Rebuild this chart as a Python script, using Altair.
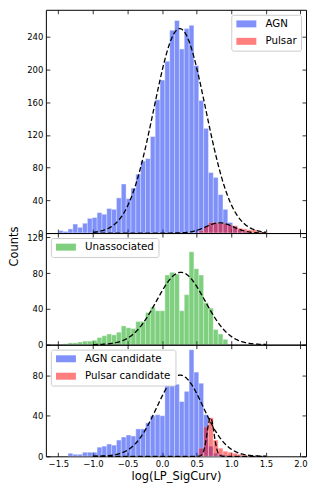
import altair as alt
import numpy as np
import pandas as pd

# ---------------- data ----------------
BIN_START = -1.5
BIN_WIDTH = 0.07

agn_counts = [3, 2, 5, 11, 7, 12, 18, 19, 25, 23, 30, 29, 43, 60, 42, 55, 72, 88, 91, 118,
              163, 187, 210, 248, 260, 225, 250, 254, 205, 162, 128, 74, 68, 47, 29, 13, 8, 4, 2]
pulsar_counts = [0] * 29 + [3, 8, 13, 13, 12, 12, 10, 9, 6, 5, 4, 4, 2, 1]

unassoc_counts = [0, 1, 2, 2, 3, 4, 4, 5, 8, 10, 12, 11, 14, 21, 19, 18, 26, 26, 36, 42,
                  38, 38, 78, 81, 79, 38, 56, 104, 85, 78, 47, 41, 17, 12, 6]

agn_cand_counts = [0, 0, 3, 2, 2, 4, 4, 4, 9, 10, 12, 11, 16, 19, 21, 20, 27, 27, 33, 40,
                   41, 40, 70, 78, 71, 54, 64, 105, 83, 72, 41, 10, 3, 2, 1]
pulsar_cand_counts = [0] * 29 + [8, 29, 38, 16, 8, 5, 4, 3, 2, 1, 1]

# Gaussian fits drawn as dashed lines: (name, mean, sigma, amplitude)
fits_top = [("AGN", 0.255, 0.375, 250), ("Pulsar", 0.83, 0.20, 12.5)]
fits_mid = [("Unassociated", 0.27, 0.35, 81)]
fits_bot = [("AGN candidate", 0.26, 0.335, 80), ("Pulsar candidate", 0.70, 0.05, 38)]
FIT_RANGE = (-1.0, 1.5)

x_ticks = [-1.5, -1.0, -0.5, 0.0, 0.5, 1.0, 1.5, 2.0]
X_DOMAIN = [-1.68, 2.08]

BLUE = "#0125f3"
RED = "#ff0000"
GREEN = "#00a000"


def bars(series_list):
    rows = []
    for name, counts in series_list:
        for k, c in enumerate(counts):
            if c > 0:
                rows.append({"series": name,
                             "x0": BIN_START + k * BIN_WIDTH,
                             "x1": BIN_START + (k + 1) * BIN_WIDTH,
                             "count": c})
    return pd.DataFrame(rows)


def curves(fits):
    xs = np.linspace(FIT_RANGE[0], FIT_RANGE[1], 400)
    rows = []
    for name, mu, sd, amp in fits:
        ys = amp * np.exp(-0.5 * ((xs - mu) / sd) ** 2)
        rows += [{"curve": name, "x": float(a), "y": float(b)} for a, b in zip(xs, ys)]
    return pd.DataFrame(rows)


TICK = 4


def inward(orient, values, labels=False, title=None, **kw):
    return alt.Axis(orient=orient, values=values, labels=labels, title=title,
                    domain=False, ticks=True, tickSize=TICK, offset=-TICK,
                    grid=False, **kw)


def panel(series_list, colors, fits, ymax, yticks, height, legend_orient,
          bottom_labels=False, ytitle_kw=None):
    bdf = bars(series_list)
    cdf = curves(fits)
    xs = alt.Scale(domain=X_DOMAIN, nice=False, zero=False)
    ys = alt.Scale(domain=[0, ymax], nice=False, zero=True)
    names = [n for n, _ in series_list]

    left_kw = dict(labelPadding=3, labelFontSize=8.5)
    if ytitle_kw:
        left_kw.update(ytitle_kw)
        ytitle = "Counts"
    else:
        ytitle = None
    bottom_kw = {}
    if bottom_labels:
        bottom_kw = dict(format=".1f", labelPadding=3, labelFontSize=8.5,
                         titleFontSize=11.5, titlePadding=3, titleFontWeight="normal")
    b = alt.Chart(bdf).mark_bar(opacity=0.5, stroke="white", strokeWidth=0.4).encode(
        x=alt.X("x0:Q", scale=xs,
                axis=inward("bottom", x_ticks, labels=bottom_labels,
                            title="log(LP_SigCurv)" if bottom_labels else None,
                            **bottom_kw)),
        x2="x1:Q",
        y=alt.Y("count:Q", scale=ys,
                axis=inward("left", yticks, labels=True, title=ytitle, **left_kw)),
        y2=alt.datum(0),
        color=alt.Color("series:N",
                        scale=alt.Scale(domain=names, range=colors),
                        legend=alt.Legend(title=None, orient=legend_orient, offset=5,
                                          padding=4, strokeColor="#cccccc",
                                          fillColor="white", cornerRadius=2,
                                          symbolType="M-2,-0.7L2,-0.7L2,0.7L-2,0.7Z",
                                          symbolSize=100, symbolOffset=6,
                                          symbolStrokeWidth=0,
                                          symbolOpacity=0.5, labelFontSize=10.3,
                                          labelFont="DejaVu Sans", rowPadding=6.5,
                                          labelOffset=14)),
    )
    ln = alt.Chart(cdf).mark_line(color="black", strokeDash=[5, 2.5], strokeWidth=1.3).encode(
        x=alt.X("x:Q", scale=xs, axis=inward("top", x_ticks)),
        y=alt.Y("y:Q", scale=ys, axis=inward("right", yticks)),
        detail="curve:N",
    )
    return alt.layer(b, ln).resolve_axis(x="independent", y="independent").properties(
        width=261, height=height)


p1 = panel([("AGN", agn_counts), ("Pulsar", pulsar_counts)], [BLUE, RED], fits_top,
           273, [0, 40, 80, 120, 160, 200, 240], 224, "top-right")
p2 = panel([("Unassociated", unassoc_counts)], [GREEN], fits_mid,
           125, [0, 40, 80, 120], 112, "top-left",
           ytitle_kw=dict(titleX=-32, titleY=13, titleAngle=270, titleAlign="center",
                          titleBaseline="alphabetic", titleFontSize=11.5,
                          titleFontWeight="normal"))
p3 = panel([("AGN candidate", agn_cand_counts), ("Pulsar candidate", pulsar_cand_counts)],
           [BLUE, RED], fits_bot, 110, [0, 40, 80], 112, "top-left", bottom_labels=True)

chart = alt.vconcat(p1, p2, p3, spacing=0, bounds="flush").resolve_scale(
    color="independent", x="independent", y="independent"
).properties(padding={"left": 0, "top": 0, "right": 0, "bottom": 0}).configure_view(
    stroke="black", strokeWidth=1
).configure_axis(
    labelFont="DejaVu Sans", titleFont="DejaVu Sans", labelColor="black",
    titleColor="black", tickColor="black", tickWidth=0.8
)

chart.save("out.html", embed_options={"renderer": "svg", "actions": False})
